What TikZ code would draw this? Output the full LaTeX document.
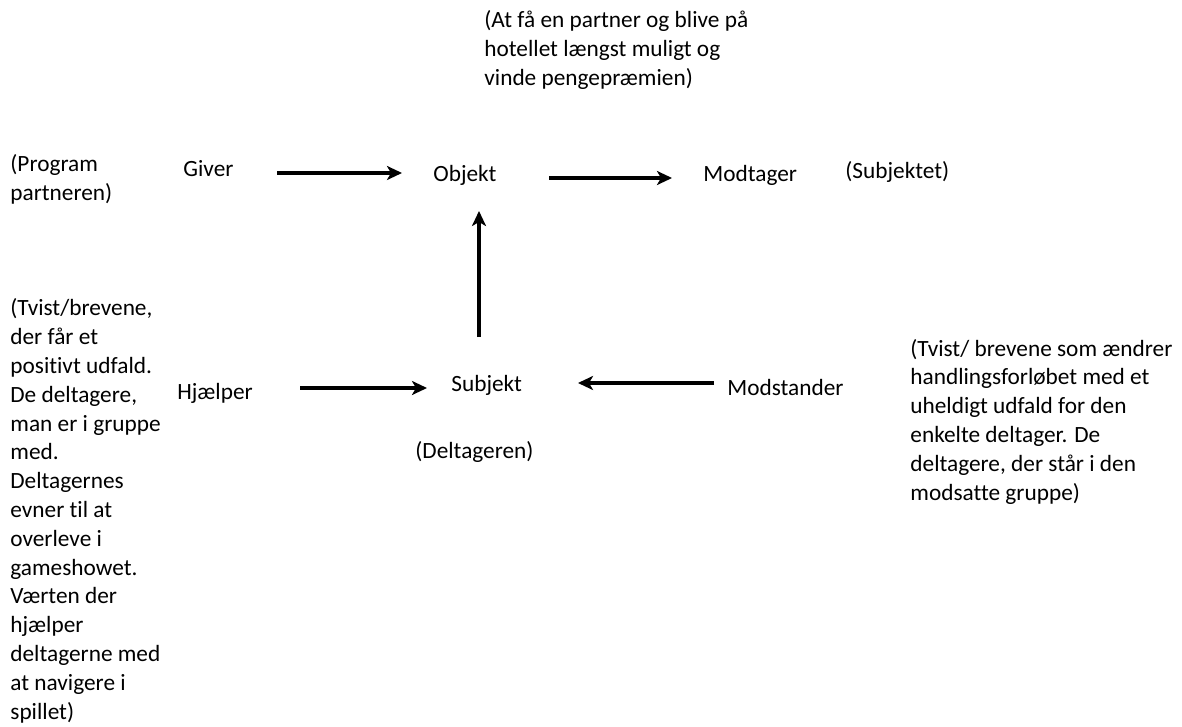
\documentclass[tikz,border=0pt]{standalone}
\usepackage{fontspec}
\setmainfont{Carlito}[Ligatures=NoCommon]
\usetikzlibrary{arrows.meta,calc}
\begin{document}
\begin{tikzpicture}[x=0.5pt,y=-0.5pt,
  lbl/.style={inner sep=0pt, anchor=base west, align=left,
    font=\fontsize{11.65pt}{14.4pt}\selectfont},
  arr/.style={line width=2.1pt,
    -{Stealth[length=7.5pt,width=7pt,inset=2pt]}}]
\useasboundingbox (0,0) rectangle (1182,727);

% actants
\node[lbl] (giver)      at (183,177) {Giver};
\node[lbl] (objekt)     at (433,182) {Objekt};
\node[lbl] (modtager)   at (703,182) {Modtager};
\node[lbl] (hjaelper)   at (177,399) {Hjælper};
\node[lbl] (subjekt)    at (451,391) {Subjekt};
\node[lbl] (modstander) at (727,395) {Modstander};

% explanations (placed by the baseline of their last line)
\node[lbl] (objektdesc) at (484,85.6)
  {(At få en partner og blive på\\hotellet længst muligt og\\vinde pengepræmien)};
\node[lbl] (giverdesc) at (10,200.8) {(Program\\partneren)};
\node[lbl] (modtagerdesc) at (845,179) {(Subjektet)};
\node[lbl] (subjektdesc) at (415,458) {(Deltageren)};
\node[lbl] (hjaelperdesc) at (10,719)
  {(Tvist/brevene,\\der får et\\positivt udfald.\\De deltagere,\\man er i gruppe\\med.\\Deltagernes\\evner til at\\overleve i\\gameshowet.\\Værten der\\hjælper\\deltagerne med\\at navigere i\\spillet)};
\node[lbl] (modstanderdesc) at (910,500)
  {(Tvist/ brevene som ændrer\\handlingsforløbet med et\\uheldigt udfald for den\\enkelte deltager. De\\deltagere, der står i den\\modsatte gruppe)};

% connectors
\draw[arr] ($(giver.base west)+(94,-4)$) -- ($(objekt.base west)+(-31,-9)$);
\draw[arr] ($(objekt.base west)+(116,-4)$) -- ($(modtager.base west)+(-31,-4)$);
\draw[arr] ($(subjekt.base west)+(28,-54)$) -- ($(objekt.base west)+(46,29)$);
\draw[arr] ($(hjaelper.base west)+(123,-11)$) -- ($(subjekt.base west)+(-24,-3)$);
\draw[arr] ($(modstander.base west)+(-13,-12)$) -- ($(subjekt.base west)+(127,-8)$);
\end{tikzpicture}
\end{document}
